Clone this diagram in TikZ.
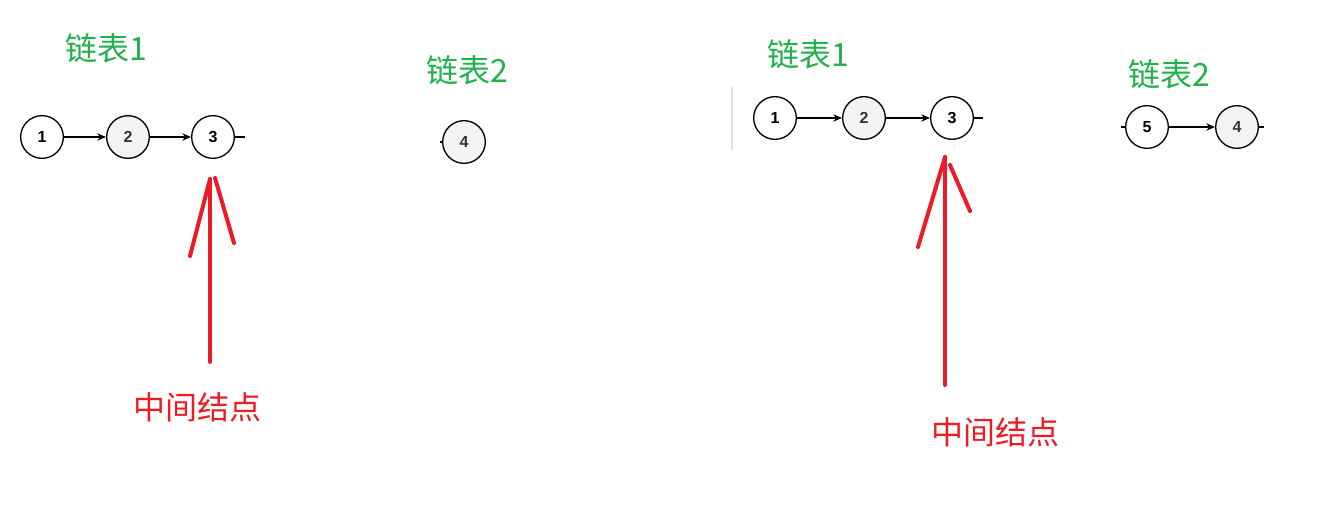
\documentclass[tikz,border=0pt]{standalone}
\usepackage{fontspec}
\setsansfont{Liberation Sans}
\newfontfamily\cjk{Noto Sans CJK SC}
\usetikzlibrary{positioning,arrows.meta}
\definecolor{listgreen}{RGB}{34,177,76}
\definecolor{markred}{RGB}{237,28,36}
\definecolor{nodegray}{RGB}{243,243,243}
\definecolor{sepgray}{RGB}{225,225,225}

\begin{document}
\begin{tikzpicture}[
  x=0.75pt, y=-0.75pt,
  %% Node styles
  lnode/.style={
    circle, draw=black, fill=white, line width=1pt,
    minimum size=32pt, inner sep=0pt,
    font=\sffamily\bfseries\fontsize{12}{12}\selectfont,
  },
  gnode/.style={lnode, fill=nodegray, text=black!80},
  %% Edge styles
  link/.style={draw=black, line width=0.9pt, -{Stealth[length=6.5pt,width=5.5pt]}},
  tail/.style={draw=black, line width=0.9pt},
  redline/.style={draw=markred, line width=3pt, line cap=round},
  %% Text styles
  title/.style={font=\cjk\fontsize{24}{24}\selectfont, text=listgreen, inner sep=0pt},
  redtext/.style={font=\cjk\fontsize{24}{24}\selectfont, text=markred, inner sep=0pt},
]
\useasboundingbox (0,0) rectangle (1325,517);

%% =============================================================
%%  LEFT PANEL
%% =============================================================
\node[title] (t1) at (106, 48) {链表1};
\node[title] (t2) at (467, 70) {链表2};

\node[lnode] (a1) at ( 42, 137) {1};
\node[gnode] (a2) at (128, 137) {2};
\node[lnode] (a3) at (213, 137) {3};
\node[gnode] (a4) at (464, 142) {4};

\coordinate (a3end) at (245, 137);
\coordinate (a4end) at (440, 142);

\draw[link] (a1) -- (a2);
\draw[link] (a2) -- (a3);
\draw[tail] (a3) -- (a3end);
\draw[tail] (a4end) -- (a4);

%% Middle-node marker
\coordinate (ptip)  at (210, 179);
\coordinate (ptail) at (210, 362);
\coordinate (pbl)   at (190, 256);
\coordinate (pbr)   at (234, 243);
\coordinate (ptr)   at (215, 178);
\draw[redline] (ptail) -- (ptip);
\draw[redline] (pbl) -- (ptip);
\draw[redline] (pbr) -- (ptr);
\node[redtext] (m1) at (197, 407) {中间结点};

%% =============================================================
%%  RIGHT PANEL
%% =============================================================
\draw[sepgray, line width=1.2pt] (732, 87) -- (732, 150);

\node[title] (u1) at (808, 54) {链表1};
\node[title] (u2) at (1169, 74) {链表2};

\node[lnode] (b1) at (775, 118) {1};
\node[gnode] (b2) at (864, 118) {2};
\node[lnode] (b3) at (952, 118) {3};
\node[lnode] (b5) at (1147, 127) {5};
\node[gnode] (b4) at (1237, 127) {4};

\coordinate (b3end) at (983, 118);
\coordinate (b5end) at (1121, 127);
\coordinate (b4end) at (1264, 127);

\draw[link] (b1) -- (b2);
\draw[link] (b2) -- (b3);
\draw[tail] (b3) -- (b3end);
\draw[link] (b5) -- (b4);
\draw[tail] (b5end) -- (b5);
\draw[tail] (b4) -- (b4end);

%% Middle-node marker
\coordinate (qtip)  at (945, 157);
\coordinate (qtail) at (945, 385);
\coordinate (qbl)   at (918, 247);
\coordinate (qbr)   at (970, 211);
\coordinate (qtr)   at (950, 165);
\draw[redline] (qtail) -- (qtip);
\draw[redline] (qbl) -- (qtip);
\draw[redline] (qbr) -- (qtr);
\node[redtext] (m2) at (995, 432) {中间结点};

\end{tikzpicture}
\end{document}
